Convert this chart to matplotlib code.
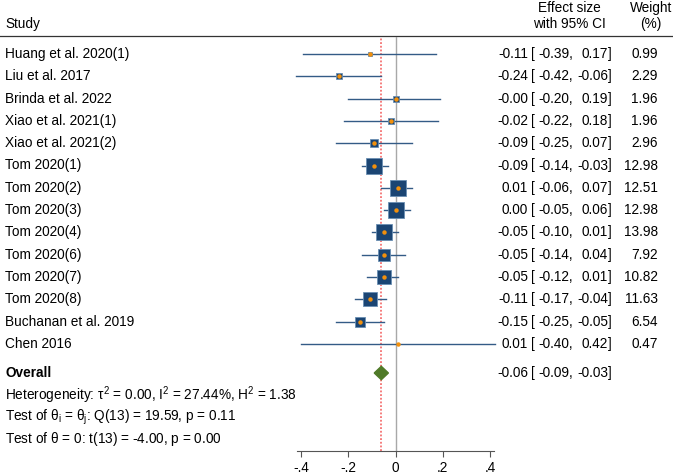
import matplotlib.pyplot as plt
import numpy as np

plt.rcParams["font.family"] = ["Liberation Sans", "DejaVu Sans"]
plt.rcParams["mathtext.fontset"] = "custom"
plt.rcParams["mathtext.rm"] = "Liberation Sans"
plt.rcParams["mathtext.it"] = "Liberation Sans"

studies = [
    "Huang et al. 2020(1)", "Liu et al. 2017", "Brinda et al. 2022",
    "Xiao et al. 2021(1)", "Xiao et al. 2021(2)", "Tom 2020(1)", "Tom 2020(2)",
    "Tom 2020(3)", "Tom 2020(4)", "Tom 2020(6)", "Tom 2020(7)", "Tom 2020(8)",
    "Buchanan et al. 2019", "Chen 2016",
]
effect = [-0.11, -0.24, -0.00, -0.02, -0.09, -0.09, 0.01, 0.00, -0.05, -0.05, -0.05, -0.11, -0.15, 0.01]
lower = [-0.39, -0.42, -0.20, -0.22, -0.25, -0.14, -0.06, -0.05, -0.10, -0.14, -0.12, -0.17, -0.25, -0.40]
upper = [0.17, -0.06, 0.19, 0.18, 0.07, -0.03, 0.07, 0.06, 0.01, 0.04, 0.01, -0.04, -0.05, 0.42]
weight = [0.99, 2.29, 1.96, 1.96, 2.96, 12.98, 12.51, 12.98, 13.98, 7.92, 10.82, 11.63, 6.54, 0.47]
effect_labels = ["-0.11", "-0.24", "-0.00", "-0.02", "-0.09", "-0.09", "0.01", "0.00",
                 "-0.05", "-0.05", "-0.05", "-0.11", "-0.15", "0.01"]
overall = (-0.06, -0.09, -0.03)
ticks = [-0.4, -0.2, 0, 0.2, 0.4]
tick_labels = ["-.4", "-.2", "0", ".2", ".4"]

W, H = 673, 475
fig = plt.figure(figsize=(W / 100, H / 100), dpi=100)

# text layer in pixel coordinates
tx = fig.add_axes([0, 0, 1, 1])
tx.set_xlim(0, W)
tx.set_ylim(H, 0)
tx.axis("off")

# forest layer: x in effect units, y in row index
px_per_unit = 94.5 / 0.4
x0_px, x1_px = 290, 505
xlo = -0.4 - (301 - x0_px) / px_per_unit
xhi = -0.4 + (x1_px - 301) / px_per_unit
row0, step = 54, 22.3
y_top, y_bot = 37, 451
ax = fig.add_axes([x0_px / W, 1 - y_bot / H, (x1_px - x0_px) / W, (y_bot - y_top) / H])
ax.set_xlim(xlo, xhi)
ax.set_ylim((y_bot - row0) / step, (y_top - row0) / step)
ax.patch.set_visible(False)
for s in ["top", "right", "left"]:
    ax.spines[s].set_visible(False)
ax.spines["bottom"].set_bounds(-0.415, 0.415)
ax.spines["bottom"].set_color("#555555")
ax.spines["bottom"].set_linewidth(0.8)
ax.set_yticks([])
ax.set_xticks(ticks)
ax.set_xticklabels(tick_labels, fontsize=9.8)
ax.tick_params(axis="x", length=4, color="#555555", pad=3)

ax.axvline(0, color="#a8a8a8", lw=1.0, zorder=1)
ax.axvline(overall[0], color="#f03c3c", lw=1.1, ls=(0, (1.2, 1.2)), alpha=0.85, zorder=1)

fs = 9.8
for i, name in enumerate(studies):
    ax.plot([lower[i], upper[i]], [i, i], color="#335b86", lw=1.0, zorder=2)
    side = 4.3 * np.sqrt(weight[i]) * 0.72
    ax.plot(effect[i], i, marker="s", ms=side, color="#1b4573",
            mec="#6a8fb3", mew=0.6, zorder=3)
    ax.plot(effect[i], i, marker="o", ms=3.2, color="#f2900c", mew=0, zorder=4)

    y = row0 + step * i
    tx.text(5, y, name, fontsize=fs, va="center", ha="left")
    tx.text(528, y, effect_labels[i], fontsize=fs, va="center", ha="right")
    tx.text(531, y, "[", fontsize=fs, va="center", ha="left")
    tx.text(573, y, f"{lower[i]:.2f},", fontsize=fs, va="center", ha="right")
    tx.text(608, y, f"{upper[i]:.2f}", fontsize=fs, va="center", ha="right")
    tx.text(608, y, "]", fontsize=fs, va="center", ha="left")
    tx.text(658, y, f"{weight[i]:.2f}", fontsize=fs, va="center", ha="right")

# overall diamond
oy = (373 - row0) / step
est, lo, hi = overall
ax.fill([lo, est, hi, est], [oy, oy - 0.3, oy, oy + 0.3], color="#4f7a28", zorder=4)
y = 373
tx.text(5, y, "Overall", fontsize=fs, va="center", ha="left", fontweight="bold")
tx.text(528, y, f"{est:.2f}", fontsize=fs, va="center", ha="right")
tx.text(531, y, "[", fontsize=fs, va="center", ha="left")
tx.text(573, y, f"{lo:.2f},", fontsize=fs, va="center", ha="right")
tx.text(608, y, f"{hi:.2f}", fontsize=fs, va="center", ha="right")
tx.text(608, y, "]", fontsize=fs, va="center", ha="left")

tx.text(5, 395, r"Heterogeneity: $\tau^2$ = 0.00, I$^2$ = 27.44%, H$^2$ = 1.38",
        fontsize=fs, va="center", ha="left")
tx.text(5, 417, r"Test of $\theta_\mathrm{i}$ = $\theta_\mathrm{j}$: Q(13) = 19.59, p = 0.11",
        fontsize=fs, va="center", ha="left")
tx.text(5, 439, r"Test of $\theta$ = 0: t(13) = -4.00, p = 0.00",
        fontsize=fs, va="center", ha="left")

# header
tx.text(5, 24, "Study", fontsize=fs, va="center", ha="left")
tx.text(569, 8, "Effect size", fontsize=fs, va="center", ha="center")
tx.text(569, 24, "with 95% CI", fontsize=fs, va="center", ha="center")
tx.text(651, 8, "Weight", fontsize=fs, va="center", ha="center")
tx.text(651, 24, "(%)", fontsize=fs, va="center", ha="center")
tx.plot([0, W], [36, 36], color="#333333", lw=0.9)

fig.savefig("out.png", dpi=100)
